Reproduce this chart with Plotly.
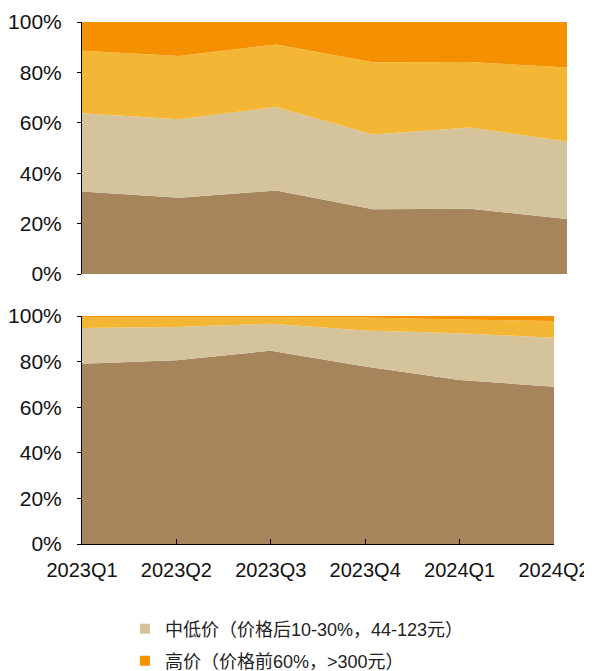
import plotly.graph_objects as go
from plotly.subplots import make_subplots

quarters = ["2023Q1", "2023Q2", "2023Q3", "2023Q4", "2024Q1", "2024Q2"]
y_ticks = [0, 20, 40, 60, 80, 100]
y_tick_labels = ["0%", "20%", "40%", "60%", "80%", "100%"]

# top panel shares (%)
top_low = [32.7, 30.3, 33.1, 25.7, 25.9, 21.8]
top_midlow = [31.1, 31.1, 33.2, 29.7, 32.2, 30.8]
top_midhigh = [24.8, 25.1, 24.8, 28.6, 26.0, 29.3]
top_high = [11.4, 13.5, 8.9, 16.0, 15.9, 18.1]

# bottom panel shares (%)
bot_low = [79.1, 80.6, 84.8, 77.8, 71.9, 69.0]
bot_midlow = [15.6, 14.6, 11.8, 15.8, 20.5, 21.5]
bot_midhigh = [4.8, 4.3, 2.9, 5.7, 6.1, 7.3]
bot_high = [0.5, 0.5, 0.5, 0.7, 1.5, 2.2]

names = ["低价", "中低价（价格后10-30%，44-123元）", "中高价", "高价（价格前60%，>300元）"]
colors = ["#A6845C", "#D4C39B", "#F3B735", "#F59100"]

fig = make_subplots(rows=2, cols=1)

for i, vals in enumerate([top_low, top_midlow, top_midhigh, top_high]):
    fig.add_trace(go.Scatter(x=quarters, y=vals, name=names[i], stackgroup="top",
                             mode="none", fillcolor=colors[i], showlegend=False),
                  row=1, col=1)
for i, vals in enumerate([bot_low, bot_midlow, bot_midhigh, bot_high]):
    fig.add_trace(go.Scatter(x=quarters, y=vals, name=names[i], stackgroup="bot",
                             mode="none", fillcolor=colors[i], showlegend=False),
                  row=2, col=1)

# legend entries (square swatches)
fig.add_trace(go.Scatter(x=[None], y=[None], mode="markers", name=names[1],
                         marker=dict(symbol="square", size=10, color=colors[1]),
                         legend="legend", showlegend=True))
fig.add_trace(go.Scatter(x=[None], y=[None], mode="markers", name=names[3],
                         marker=dict(symbol="square", size=10, color=colors[3]),
                         legend="legend2", showlegend=True))

font_family = "Liberation Sans, Arial, Noto Sans CJK SC, sans-serif"
OFF = 8  # page body margin
W, H = 600, 671 - OFF


def px_x(p):
    return (p - OFF) / W


def px_y(p):
    return 1 - (p - OFF) / H


legend_font = dict(size=18, family=font_family, color="#222222")
fig.update_layout(
    width=W, height=H,
    margin=dict(l=0, r=0, t=0, b=0, autoexpand=False),
    plot_bgcolor="white", paper_bgcolor="white",
    font=dict(family=font_family, size=20, color="#111111"),
    legend=dict(x=px_x(125), xanchor="left", y=px_y(629), yanchor="middle",
                font=legend_font, bgcolor="rgba(0,0,0,0)", itemwidth=30),
    legend2=dict(x=px_x(125), xanchor="left", y=px_y(661), yanchor="middle",
                 font=legend_font, bgcolor="rgba(0,0,0,0)", itemwidth=30),
    showlegend=True,
)

fig.update_xaxes(type="category", range=[0, 5], showgrid=False, zeroline=False,
                 automargin=False)
fig.update_xaxes(row=1, col=1, showticklabels=False, ticks="", showline=False,
                 domain=[px_x(82), px_x(567)])
fig.update_xaxes(row=2, col=1, domain=[px_x(82), px_x(554)], showline=True,
                 linecolor="black", linewidth=1, ticks="inside", ticklen=5,
                 tickcolor="black", tickfont=dict(size=20), ticklabelstandoff=8)
fig.update_yaxes(range=[0, 100], tickvals=y_ticks, ticktext=y_tick_labels,
                 showgrid=False, zeroline=False, showline=True, linecolor="black",
                 linewidth=1, ticks="outside", ticklen=4, tickcolor="black",
                 tickfont=dict(size=21), automargin=False, ticklabelstandoff=11)
fig.update_yaxes(row=1, col=1, domain=[px_y(274), px_y(22)])
fig.update_yaxes(row=2, col=1, domain=[px_y(544), px_y(316)])

fig.write_html("out.html")
